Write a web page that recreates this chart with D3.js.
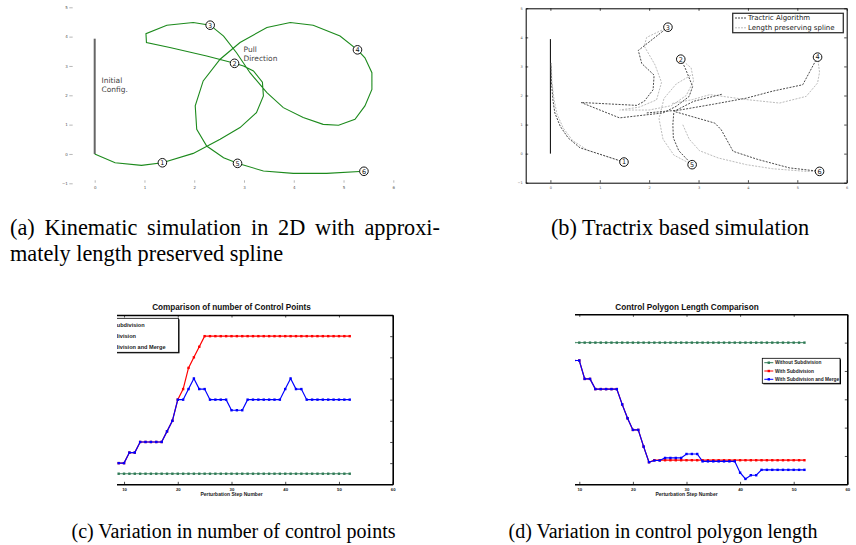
<!DOCTYPE html>
<html>
<head>
<meta charset="utf-8">
<script src="https://cdn.jsdelivr.net/npm/d3@7"></script>
<style>
  body { margin: 0; background: #fff; }
  svg { display: block; }
</style>
</head>
<body>
<svg id="fig" width="856" height="545"></svg>
<script>
// ---------- (a) kinematic simulation ----------
var kinPath = [[0,0],[0.41,-0.30],[0.94,-0.39],[1.36,-0.30],[1.98,0.02],[2.52,0.50],[2.92,0.90],
  [3.25,1.41],[3.39,1.98],[3.37,2.45],[3.19,2.83],[2.99,3.00],[2.81,3.09],[2.25,3.34],[1.51,3.63],
  [1.04,3.80],[1.03,4.10],[1.45,4.39],[1.98,4.48],[2.32,4.39],[2.59,4.02],[2.85,3.45],[3.12,2.77],
  [3.46,2.09],[3.79,1.58],[4.19,1.24],[4.59,1.01],[4.90,0.98],[5.23,1.18],[5.43,1.64],[5.57,2.20],
  [5.57,2.77],[5.43,3.28],[5.28,3.55],[4.93,4.02],[4.39,4.39],[3.93,4.48],[3.46,4.31],[2.92,3.80],
  [2.52,3.23],[2.18,2.49],[2.02,1.64],[2.05,0.84],[2.25,0.27],[2.59,-0.13],[2.87,-0.32],[3.39,-0.58],
  [3.99,-0.66],[4.66,-0.66],[5.41,-0.59]];
var kinMarkers = [[1.36,-0.30,"1"],[2.81,3.09,"2"],[2.32,4.39,"3"],[5.28,3.55,"4"],[2.87,-0.32,"5"],[5.41,-0.59,"6"]];
var kinInitial = [[0,0],[0,3.93]];
var kinTicksX = [0,1,2,3,4,5,6];
var kinTicksY = [-1,0,1,2,3,4,5];

// ---------- (b) tractrix based simulation ----------
var tractrixPaths = [
  [[1.49,-0.29],[0.60,0.20],[0.36,0.54],[0.20,0.94],[0.09,1.40],[0.05,1.86],[0.02,2.50],[0.01,3.12]],
  [[2.64,3.25],[2.73,2.94],[2.88,2.31],[2.81,1.97],[2.55,1.63],[2.28,1.40],[1.40,1.23],[0.62,1.76]],
  [[2.38,4.35],[1.78,3.55],[1.85,3.10],[2.10,2.70],[2.08,2.20],[1.90,1.80],[1.75,1.66],[0.62,1.76]],
  [[5.41,3.32],[5.11,2.37],[4.50,2.15],[3.97,1.91],[3.30,1.70],[2.62,1.50],[1.95,1.40]],
  [[2.87,-0.38],[2.60,0.10],[2.49,0.54],[2.48,1.00],[2.50,1.45],[2.90,1.80],[3.49,2.05]],
  [[5.45,-0.61],[4.84,-0.49],[4.20,-0.20],[3.70,0.08],[3.46,0.82],[3.33,1.05],[2.51,1.45]]
];
var splinePaths = [
  [[1.49,-0.29],[0.75,0.12],[0.45,0.45],[0.26,0.88],[0.13,1.38],[0.07,1.90],[0.03,2.50],[0.02,3.05]],
  [[2.64,3.25],[2.85,2.95],[2.90,2.50],[2.75,2.00],[2.45,1.65],[2.00,1.50],[1.45,1.50]],
  [[2.38,4.35],[1.95,4.00],[1.90,3.70],[2.12,3.05],[2.25,2.45],[2.15,1.85],[1.80,1.60],[1.40,1.50]],
  [[5.41,3.32],[5.45,2.80],[5.41,2.43],[5.18,1.97],[4.64,1.74],[3.97,1.86],[3.23,2.03],[2.88,1.86],[2.45,1.72]],
  [[2.87,-0.38],[2.50,-0.05],[2.28,0.50],[2.20,1.20],[2.30,1.90],[2.55,2.40],[2.85,2.70]],
  [[5.45,-0.61],[5.18,-0.61],[4.50,-0.52],[3.97,-0.38],[3.40,-0.15],[3.02,0.10],[2.81,0.50],[2.68,1.00]]
];
var tracMarkers = [[1.49,-0.29,"1"],[2.64,3.25,"2"],[2.38,4.35,"3"],[5.41,3.32,"4"],[2.87,-0.38,"5"],[5.45,-0.61,"6"]];
var tracInitial = [[0,0],[0,3.94]];
var tracLegend = ["Tractric Algorithm", "Length preserving spline"];

// ---------- (c) / (d) perturbation steps ----------
var steps = [9,10,11,12,13,14,15,16,17,18,19,20,21,22,23,24,25,26,27,28,29,30,
  31,32,33,34,35,36,37,38,39,40,41,42,43,44,45,46,47,48,49,50,51,52];
var seriesNames = ["Without Subdivision", "With Subdivision", "With Subdivision and Merge"];

var countWithout = [5,5,5,5,5,5,5,5,5,5,5,5,5,5,5,5,5,5,5,5,5,5,5,5,5,5,5,5,5,5,5,5,5,5,5,5,5,5,5,5,5,5,5,5];
var countWith = [6,6,7,7,8,8,8,8,8,9,10,12,13,15,16,17,18,18,18,18,18,18,
  18,18,18,18,18,18,18,18,18,18,18,18,18,18,18,18,18,18,18,18,18,18];
var countMerge = [6,6,7,7,8,8,8,8,8,9,10,12,12,13,14,13,13,12,12,12,12,11,
  11,11,12,12,12,12,12,12,12,13,14,13,13,12,12,12,12,12,12,12,12,12];

var lenWithout = [15,15,15,15,15,15,15,15,15,15,15,15,15,15,15,15,15,15,15,15,15,15,
  15,15,15,15,15,15,15,15,15,15,15,15,15,15,15,15,15,15,15,15,15,15];
var lenWith = [14.37,14.37,13.72,13.72,13.36,13.36,13.36,13.36,13.36,12.82,12.33,11.92,11.92,11.33,10.78,
  10.85,10.85,10.85,10.85,10.85,10.85,10.85,10.85,10.85,10.85,10.85,10.85,10.85,10.85,10.85,10.85,10.85,
  10.85,10.85,10.85,10.85,10.85,10.85,10.85,10.85,10.85,10.85,10.85,10.85];
var lenMerge = [14.37,14.37,13.72,13.72,13.36,13.36,13.36,13.36,13.36,12.82,12.33,11.92,11.92,11.33,10.78,
  10.84,10.84,10.93,10.93,10.93,10.93,11.07,11.07,11.07,10.81,10.81,10.81,10.81,10.81,10.81,10.81,
  10.41,10.19,10.32,10.32,10.51,10.51,10.51,10.51,10.51,10.51,10.51,10.51,10.51];

// captions: "fit" stretches the word gaps out to that right edge (justified line)
var captions = [
  {x: 10, y: 235, t: "(a) Kinematic simulation in 2D with approxi-", anchor: "start", fs: 22.3, fit: 440},
  {x: 10, y: 261, t: "mately length preserved spline", anchor: "start", fs: 22.3},
  {x: 680, y: 235, t: "(b) Tractrix based simulation", anchor: "middle", fs: 22.3},
  {x: 233.5, y: 538, t: "(c) Variation in number of control points", anchor: "middle", fs: 20},
  {x: 663, y: 538, t: "(d) Variation in control polygon length", anchor: "middle", fs: 20}
];

var svg = d3.select("#fig");
var sans = "'DejaVu Sans', sans-serif";
var bold = "'Liberation Sans', Arial, sans-serif";
var intFmt = d3.format("d");

function numberedMarkers(g, pts, x, y) {
  var m = g.selectAll(".mk").data(pts).join("g")
    .attr("transform", d => "translate(" + x(d[0]) + "," + y(d[1]) + ")");
  m.append("circle").attr("r", 4.3).attr("fill", "#fff").attr("stroke", "#111").attr("stroke-width", 1);
  m.append("text").attr("text-anchor", "middle").attr("dy", "0.36em")
    .attr("font-size", 6.5).attr("font-family", sans).attr("fill", "#111").text(d => d[2]);
}

// ===== panel (a) =====
var ax = d3.scaleLinear().domain([0, 6]).range([94.7, 393.3]);
var ay = d3.scaleLinear().domain([-1, 5]).range([183.3, 7.3]);
var ga = svg.append("g");

ga.append("g").attr("transform", "translate(72.7,0)")
  .call(d3.axisLeft(ay).tickValues(kinTicksY).tickFormat(intFmt).tickSize(3.4).tickPadding(1.5))
  .call(g => g.select(".domain").remove());
ga.append("g").attr("transform", "translate(0,180.3)")
  .call(d3.axisBottom(ax).tickValues(kinTicksX).tickFormat(intFmt).tickSize(2.4).tickPadding(3))
  .call(g => g.select(".domain").remove());
ga.selectAll(".tick line").attr("stroke", "#888").attr("stroke-width", 0.6);
ga.selectAll(".tick text").attr("font-size", 4).attr("fill", "#555").attr("font-family", sans);

ga.append("path").datum(kinInitial)
  .attr("d", d3.line().x(d => ax(d[0])).y(d => ay(d[1])))
  .attr("stroke", "#666").attr("stroke-width", 2).attr("fill", "none");
ga.append("path").datum(kinPath)
  .attr("d", d3.line().x(d => ax(d[0])).y(d => ay(d[1])))
  .attr("stroke", "#1c8a1c").attr("stroke-width", 1.1).attr("fill", "none");
numberedMarkers(ga, kinMarkers, ax, ay);

ga.append("text").attr("x", 101.5).attr("y", 83).attr("font-size", 7.5).attr("font-family", sans)
  .attr("fill", "#444").selectAll("tspan").data(["Initial", "Config."]).join("tspan")
  .attr("x", 101.5).attr("dy", (d, i) => i ? 9.3 : 0).text(d => d);
ga.append("text").attr("x", 243.5).attr("y", 52).attr("font-size", 7.5).attr("font-family", sans)
  .attr("fill", "#444").selectAll("tspan").data(["Pull", "Direction"]).join("tspan")
  .attr("x", 243.5).attr("dy", (d, i) => i ? 9.3 : 0).text(d => d);

// ===== panel (b) =====
var bx = d3.scaleLinear().domain([-0.5, 6]).range([525.7, 846.7]);
var by = d3.scaleLinear().domain([-1, 5]).range([182.7, 8.3]);
var gb = svg.append("g");
var bLine = d3.line().x(d => bx(d[0])).y(d => by(d[1]));

gb.append("g").attr("transform", "translate(0,182.7)")
  .call(d3.axisBottom(bx).tickValues([0,1,2,3,4,5,6]).tickFormat(intFmt).tickSizeInner(-2.5).tickSizeOuter(0).tickPadding(4));
gb.append("g").attr("transform", "translate(0,8.3)")
  .call(d3.axisTop(bx).tickValues([0,1,2,3,4,5,6]).tickSizeInner(-2.5).tickSizeOuter(0).tickFormat(""));
gb.append("g").attr("transform", "translate(525.7,0)")
  .call(d3.axisLeft(by).tickValues([-1,0,1,2,3,4,5]).tickFormat(intFmt).tickSizeInner(-2.5).tickSizeOuter(0).tickPadding(3));
gb.append("g").attr("transform", "translate(846.7,0)")
  .call(d3.axisRight(by).tickValues([-1,0,1,2,3,4,5]).tickSizeInner(-2.5).tickSizeOuter(0).tickFormat(""));
gb.selectAll(".domain").attr("stroke", "#000").attr("stroke-width", 1);
gb.selectAll(".tick line").attr("stroke", "#000").attr("stroke-width", 0.7);
gb.selectAll(".tick text").attr("font-size", 3.5).attr("fill", "#555").attr("font-family", sans);

gb.append("path").datum(tracInitial).attr("d", bLine)
  .attr("stroke", "#000").attr("stroke-width", 1).attr("fill", "none");
gb.selectAll(".spl").data(splinePaths).join("path").attr("class", "spl").attr("d", bLine)
  .attr("stroke", "#bcbcbc").attr("stroke-width", 1).attr("stroke-dasharray", "2,1.3").attr("fill", "none");
gb.selectAll(".trc").data(tractrixPaths).join("path").attr("class", "trc").attr("d", bLine)
  .attr("stroke", "#4a4a4a").attr("stroke-width", 1).attr("stroke-dasharray", "2,1.3").attr("fill", "none");
numberedMarkers(gb, tracMarkers, bx, by);

var bl = gb.append("g");
bl.append("rect").attr("x", 732.7).attr("y", 13.3).attr("width", 110.6).attr("height", 19.4)
  .attr("fill", "#fff").attr("stroke", "#333").attr("stroke-width", 1.3);
bl.selectAll("line").data(tracLegend).join("line")
  .attr("x1", 735).attr("x2", 746.5).attr("y1", (d, i) => 18 + i * 9.8).attr("y2", (d, i) => 18 + i * 9.8)
  .attr("stroke", (d, i) => i ? "#bcbcbc" : "#4a4a4a").attr("stroke-dasharray", "2,1");
bl.selectAll("text").data(tracLegend).join("text")
  .attr("x", 748).attr("y", (d, i) => 18 + i * 9.8).attr("dy", "0.35em")
  .attr("font-size", 7).attr("font-family", sans).attr("fill", "#222").text(d => d);

// ===== panels (c) and (d) =====
var colors = ["#2f7a55", "#ff0000", "#0000ff"];

function stepPanel(opt) {
  var x = d3.scaleLinear().domain([0, 60]).range(opt.xr);
  var y = d3.scaleLinear().domain(opt.yd).range(opt.yr);
  var clipId = "clip" + opt.id;
  svg.append("clipPath").attr("id", clipId).append("rect")
    .attr("x", opt.clipX).attr("y", 290).attr("width", 856 - opt.clipX).attr("height", 220);
  var g = svg.append("g").attr("clip-path", "url(#" + clipId + ")");

  g.append("g").attr("transform", "translate(0," + opt.yr[0] + ")")
    .call(d3.axisBottom(x).ticks(6).tickSizeInner(-2.5).tickSizeOuter(0).tickPadding(3.5));
  g.append("g").attr("transform", "translate(0," + opt.yr[1] + ")")
    .call(d3.axisTop(x).ticks(6).tickSizeInner(-2.5).tickSizeOuter(0).tickFormat(""));
  g.append("g").attr("transform", "translate(" + opt.xr[1] + ",0)")
    .call(d3.axisRight(y).tickValues(opt.yTicks).tickSizeInner(-2.5).tickSizeOuter(0).tickFormat(""));
  g.selectAll(".domain").attr("stroke", "#000").attr("stroke-width", 1.6);
  g.selectAll(".tick line").attr("stroke", "#000").attr("stroke-width", 0.7);
  g.selectAll(".tick text").attr("font-size", 4.3).attr("font-weight", "bold")
    .attr("font-family", bold).attr("fill", "#222");

  var line = d3.line().x((d, i) => x(steps[i])).y(d => y(d));
  opt.series.forEach(function (s, k) {
    g.append("path").datum(s).attr("d", line).attr("fill", "none")
      .attr("stroke", colors[k]).attr("stroke-width", k ? 1.2 : 0.9);
    g.selectAll(".m" + k).data(s).join("rect").attr("class", "m" + k)
      .attr("x", (d, i) => x(steps[i]) - 1.2).attr("y", d => y(d) - 1.2)
      .attr("width", 2.4).attr("height", 2.4).attr("fill", colors[k]);
  });

  svg.append("text").attr("x", opt.titleX).attr("y", 310)
    .attr("text-anchor", "middle").attr("font-size", 8.2).attr("font-weight", "bold")
    .attr("font-family", bold).attr("fill", "#111").text(opt.title);
  svg.append("text").attr("x", x(30)).attr("y", 495.5).attr("text-anchor", "middle")
    .attr("font-size", 5).attr("font-weight", "bold").attr("font-family", bold)
    .attr("fill", "#222").text("Perturbation Step Number");

  var lg = g.append("g");
  var L = opt.legend;
  lg.append("rect").attr("x", L.x + 1).attr("y", L.y + 1).attr("width", L.w).attr("height", L.h).attr("fill", "#000");
  lg.append("rect").attr("x", L.x).attr("y", L.y).attr("width", L.w).attr("height", L.h)
    .attr("fill", "#fff").attr("stroke", "#000").attr("stroke-width", 0.8);
  seriesNames.forEach(function (n, k) {
    var ry = L.y + L.row0 + k * L.rowH;
    lg.append("line").attr("x1", L.x + 2).attr("x2", L.x + 11).attr("y1", ry).attr("y2", ry)
      .attr("stroke", colors[k]).attr("stroke-width", 1);
    lg.append("rect").attr("x", L.x + 5.3).attr("y", ry - 1.2).attr("width", 2.4).attr("height", 2.4).attr("fill", colors[k]);
    lg.append("text").attr("x", L.x + 12.7).attr("y", ry).attr("dy", "0.35em")
      .attr("font-size", L.fs).attr("font-weight", "bold").attr("font-family", bold)
      .attr("fill", "#222").text(n);
  });
}

stepPanel({
  id: "c", xr: [70.3, 392.7], yd: [4, 20], yr: [484.3, 315], yTicks: [6,8,10,12,14,16,18],
  clipX: 117, title: "Comparison of number of Control Points", titleX: 231.5,
  series: [countWithout, countWith, countMerge],
  legend: {x: 78, y: 318.3, w: 100.5, h: 34, row0: 6.5, rowH: 11.2, fs: 5.6}
});
stepPanel({
  id: "d", xr: [525.7, 847.3], yd: [10, 16], yr: [484.3, 314.3], yTicks: [11,12,13,14,15],
  clipX: 575, title: "Control Polygon Length Comparison", titleX: 687,
  series: [lenWithout, lenWith, lenMerge],
  legend: {x: 762.3, y: 358.3, w: 77.7, h: 25, row0: 4.4, rowH: 8.3, fs: 4.8}
});

// ===== captions =====
svg.selectAll(".cap").data(captions).join("text").attr("class", "cap")
  .attr("x", d => d.x).attr("y", d => d.y).attr("text-anchor", d => d.anchor)
  .attr("font-family", "'Liberation Serif', 'Times New Roman', serif")
  .attr("font-size", d => d.fs).attr("fill", "#000").text(d => d.t)
  .each(function (d) {
    if (!d.fit) return;
    var gaps = d.t.split(" ").length - 1;
    var extra = (d.fit - d.x) - this.getComputedTextLength();
    if (extra > 0) d3.select(this).attr("word-spacing", extra / gaps);
  });
</script>
</body>
</html>
